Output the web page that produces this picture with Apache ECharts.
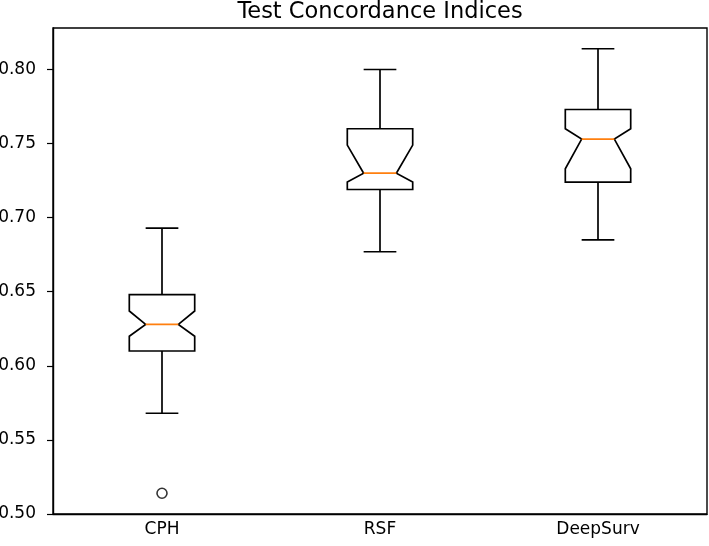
<!DOCTYPE html>
<html>
<head>
<meta charset="utf-8">
<script src="https://cdn.jsdelivr.net/npm/echarts@6/dist/echarts.min.js"></script>
<style>
html,body{margin:0;padding:0;background:#fff;}
#chart{width:709px;height:546px;}
</style>
</head>
<body>
<div id="chart"></div>
<script>
const categories = ['CPH', 'RSF', 'DeepSurv'];
const whiskerLow  = [0.568, 0.677, 0.685];
const q1          = [0.610, 0.719, 0.724];
const notchLow    = [0.620, 0.724, 0.733];
const median      = [0.628, 0.730, 0.753];
const notchHigh   = [0.637, 0.749, 0.760];
const q3          = [0.648, 0.760, 0.773];
const whiskerHigh = [0.693, 0.800, 0.814];
const outlierCat  = ['CPH'];
const outlierVal  = [0.514];
const yTicks = [0.50, 0.55, 0.60, 0.65, 0.70, 0.75, 0.80];

const boxData = categories.map((c, i) => [i, whiskerLow[i], q1[i], notchLow[i], median[i], notchHigh[i], q3[i], whiskerHigh[i]]);
const outlierData = outlierCat.map((c, i) => [c, outlierVal[i]]);

const LW = 1.7;
function renderBox(params, api) {
  const idx = api.value(0);
  const band = api.size([1, 0])[0];
  const half = band * 0.15;
  const inner = half / 2;
  const capHalf = half / 2;
  const p = (v) => api.coord([idx, v]);
  const cx = p(api.value(4))[0];
  const yWL = p(api.value(1))[1], yQ1 = p(api.value(2))[1], yNL = p(api.value(3))[1];
  const yMed = p(api.value(4))[1], yNH = p(api.value(5))[1], yQ3 = p(api.value(6))[1], yWH = p(api.value(7))[1];
  const stroke = { stroke: '#000', lineWidth: LW, fill: null };
  return {
    type: 'group',
    children: [
      { type: 'polygon', shape: { points: [
        [cx - half, yQ1], [cx + half, yQ1], [cx + half, yNL], [cx + inner, yMed],
        [cx + half, yNH], [cx + half, yQ3], [cx - half, yQ3], [cx - half, yNH],
        [cx - inner, yMed], [cx - half, yNL]
      ] }, style: { stroke: '#000', lineWidth: LW, fill: 'rgba(0,0,0,0)' } },
      { type: 'line', shape: { x1: cx, y1: yQ3, x2: cx, y2: yWH }, style: stroke },
      { type: 'line', shape: { x1: cx, y1: yQ1, x2: cx, y2: yWL }, style: stroke },
      { type: 'line', shape: { x1: cx - capHalf, y1: yWH, x2: cx + capHalf, y2: yWH }, style: stroke },
      { type: 'line', shape: { x1: cx - capHalf, y1: yWL, x2: cx + capHalf, y2: yWL }, style: stroke },
      { type: 'line', shape: { x1: cx - inner, y1: yMed, x2: cx + inner, y2: yMed }, style: { stroke: '#ff7f0e', lineWidth: LW } }
    ]
  };
}

const chart = echarts.init(document.getElementById('chart'), null, { renderer: 'canvas' });
const font = 'DejaVu Sans';
chart.setOption({
  animation: false,
  backgroundColor: '#fff',
  title: {
    text: 'Test Concordance Indices',
    left: 375, top: -4, textAlign: 'center',
    textStyle: { fontFamily: font, fontSize: 22.5, fontWeight: 'normal', color: '#000' }
  },
  grid: { left: 53, top: 28, right: 2, bottom: 32, outerBoundsMode: 'none', containLabel: false, show: true, borderColor: '#000', borderWidth: 1.4, backgroundColor: 'transparent' },
  xAxis: {
    type: 'category',
    data: categories,
    boundaryGap: true,
    axisLine: { lineStyle: { color: '#000', width: 1.4 } },
    axisTick: { alignWithLabel: true, length: 6, lineStyle: { color: '#000', width: 1.2 } },
    axisLabel: { color: '#000', fontFamily: font, fontSize: 17, margin: 7 },
    splitLine: { show: false }
  },
  yAxis: {
    type: 'value',
    min: 0.5, max: 0.828, interval: 0.05,
    axisLine: { show: true, lineStyle: { color: '#000', width: 1.4 } },
    axisTick: { show: true, length: 6, customValues: yTicks, lineStyle: { color: '#000', width: 1.2 } },
    axisLabel: { color: '#000', fontFamily: font, fontSize: 17, margin: 17, customValues: yTicks, formatter: (v) => v.toFixed(2) },
    splitLine: { show: false }
  },
  series: [
    {
      type: 'custom',
      renderItem: renderBox,
      encode: { x: 0, y: [1, 2, 3, 4, 5, 6, 7] },
      data: boxData,
      z: 3
    },
    {
      type: 'scatter',
      data: outlierData,
      symbol: 'circle',
      symbolSize: 10,
      itemStyle: { color: '#fff', borderColor: '#000', borderWidth: 1.6 },
      z: 4
    }
  ]
});
</script>
</body>
</html>
